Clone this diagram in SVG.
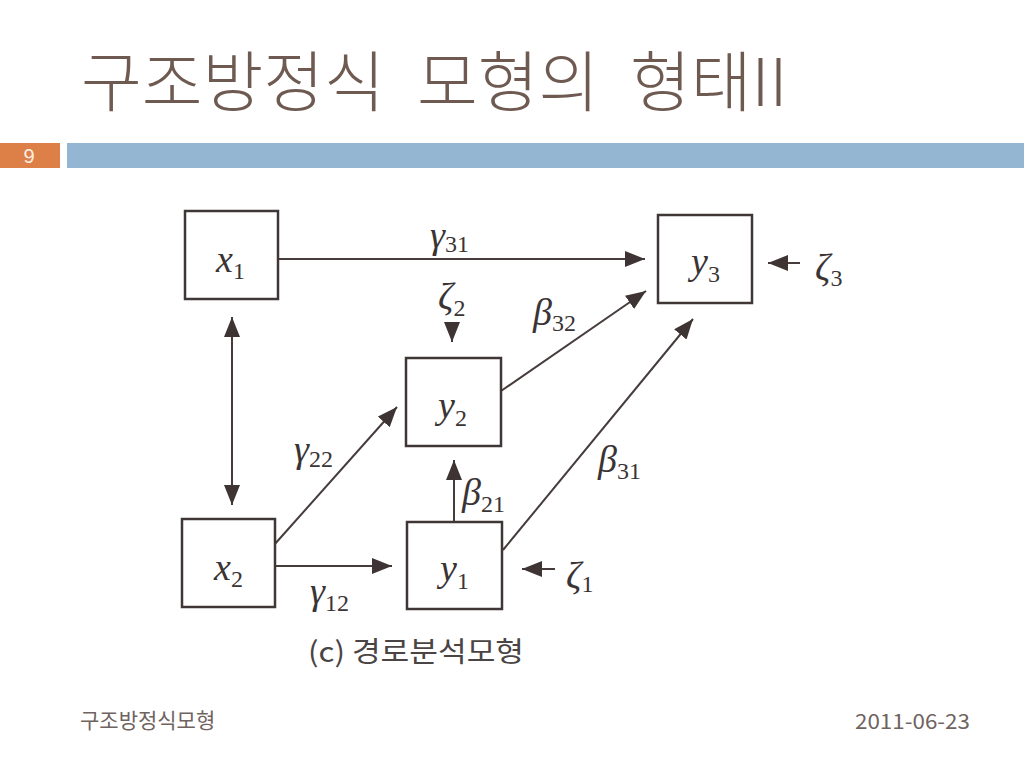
<svg xmlns="http://www.w3.org/2000/svg" width="1024" height="768" viewBox="0 0 1024 768">
<defs>
<style>
.title{font-family:"Noto Sans CJK KR","Noto Sans",sans-serif;font-size:66px;font-weight:300;fill:#6e5a50;}
.foot{font-family:"Noto Sans CJK KR","Noto Sans",sans-serif;font-size:21px;fill:#6f6360;}
.box{fill:#ffffff;stroke:#3f3636;stroke-width:2.5;}
.ln{stroke:#463c3c;stroke-width:2;fill:none;}
.m{font-family:"Liberation Serif","Times New Roman",serif;font-style:italic;font-size:38px;fill:#3a3434;}
.s{font-family:"Liberation Serif","Times New Roman",serif;font-style:normal;font-size:24px;fill:#3a3434;}
.cap{font-family:"Noto Sans CJK KR","Noto Sans",sans-serif;font-size:28px;fill:#4a4444;}
</style>
<marker id="ah" viewBox="0 0 20 16" markerWidth="20" markerHeight="16" refX="20" refY="8" orient="auto-start-reverse" markerUnits="userSpaceOnUse">
<path d="M0,0 L20,8 L0,16 z" fill="#3f3434"/>
</marker>
</defs>
<rect width="1024" height="768" fill="#ffffff"/>

<g id="header">
<text class="title" y="106"><tspan x="81">구조방정식</tspan><tspan x="417">모형의</tspan><tspan x="630">형태II</tspan></text>
<rect x="0" y="143" width="60" height="25" fill="#dd8047"/>
<rect x="67" y="143" width="957" height="25" fill="#94b6d2"/>
<text x="29" y="163" text-anchor="middle" font-family="Liberation Sans, Arial, sans-serif" font-size="20" fill="#fdeee3">9</text>
</g>

<g id="connectors">
<line class="ln" x1="278" y1="259" x2="645" y2="259" marker-end="url(#ah)"/>
<line class="ln" x1="232" y1="317" x2="232" y2="505" marker-start="url(#ah)" marker-end="url(#ah)"/>
<line class="ln" x1="452" y1="325" x2="452" y2="342" marker-end="url(#ah)"/>
<line class="ln" x1="501" y1="391" x2="646" y2="291" marker-end="url(#ah)"/>
<line class="ln" x1="503" y1="550" x2="693" y2="319" marker-end="url(#ah)"/>
<line class="ln" x1="800" y1="263" x2="768" y2="263" marker-end="url(#ah)"/>
<line class="ln" x1="274" y1="545" x2="397" y2="407" marker-end="url(#ah)"/>
<line class="ln" x1="275" y1="566" x2="392" y2="566" marker-end="url(#ah)"/>
<line class="ln" x1="454" y1="522" x2="454" y2="460" marker-end="url(#ah)"/>
<line class="ln" x1="555" y1="569" x2="522" y2="569" marker-end="url(#ah)"/>
</g>

<g id="connector-labels">
<text class="m" x="430" y="248">γ<tspan class="s" dy="4">31</tspan></text>
<text class="m" x="438" y="309">ζ<tspan class="s" dy="7">2</tspan></text>
<text class="m" x="533" y="325">β<tspan class="s" dy="6">32</tspan></text>
<text class="m" x="598" y="472">β<tspan class="s" dy="7">31</tspan></text>
<text class="m" x="462" y="505">β<tspan class="s" dy="7">21</tspan></text>
<text class="m" x="294" y="462">γ<tspan class="s" dy="5">22</tspan></text>
<text class="m" x="310" y="604">γ<tspan class="s" dy="7">12</tspan></text>
<text class="m" x="815" y="280">ζ<tspan class="s" dy="6">3</tspan></text>
<text class="m" x="566" y="588">ζ<tspan class="s" dy="4">1</tspan></text>
</g>

<g id="x1">
<rect class="box" x="185" y="211" width="93" height="88"/>
<text class="m" x="216" y="272">x<tspan class="s" dy="7">1</tspan></text>
</g>
<g id="x2">
<rect class="box" x="182" y="519" width="93" height="88"/>
<text class="m" x="214" y="580">x<tspan class="s" dy="7">2</tspan></text>
</g>
<g id="y1">
<rect class="box" x="407" y="522" width="95" height="87"/>
<text class="m" x="440" y="581">y<tspan class="s" dy="8">1</tspan></text>
</g>
<g id="y2">
<rect class="box" x="406" y="358" width="95" height="88"/>
<text class="m" x="438" y="418">y<tspan class="s" dy="8">2</tspan></text>
</g>
<g id="y3">
<rect class="box" x="658" y="215" width="94" height="88"/>
<text class="m" x="691" y="274">y<tspan class="s" dy="8">3</tspan></text>
</g>

<g id="caption">
<text class="cap" x="308" y="662" textLength="216" lengthAdjust="spacingAndGlyphs">(c) 경로분석모형</text>
</g>

<g id="footer">
<text class="foot" x="80" y="728">구조방정식모형</text>
<text class="foot" x="855" y="729" textLength="115" lengthAdjust="spacingAndGlyphs" font-size="19">2011-06-23</text>
</g>
</svg>
